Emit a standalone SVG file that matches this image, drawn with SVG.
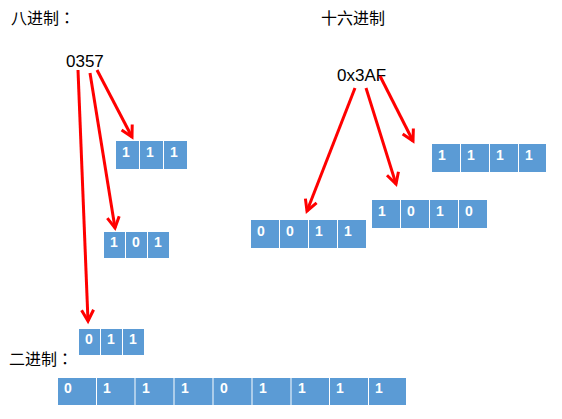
<svg xmlns="http://www.w3.org/2000/svg" width="562" height="419" viewBox="0 0 562 419">
<style>
.cell{fill:#5B9BD5}
.d{fill:#fff;font-family:"Liberation Sans",Arial,sans-serif;font-weight:bold;font-size:14px}
.cj{fill:#000;font-family:"Noto Sans CJK SC",sans-serif;font-size:16px}
.colon{font-family:"Noto Sans CJK JP",sans-serif}
.num{fill:#000;font-family:"Liberation Sans",Arial,sans-serif;font-size:17px}
.arr{stroke:#FF0000;stroke-width:3;fill:none;marker-end:url(#ah)}
</style>
<defs>
<marker id="ah" markerUnits="userSpaceOnUse" markerWidth="20" markerHeight="20" refX="0" refY="0" viewBox="-14 -10 18 20" orient="auto" overflow="visible">
<path d="M-11,-6 L0,0 L-11,6" stroke="#FF0000" stroke-width="3" fill="none"/>
</marker>
</defs>
<rect width="562" height="419" fill="#fff"/>
<g id="title-octal"><text class="cj" x="11" y="24">八进制<tspan class="colon">：</tspan></text></g>
<g id="title-hex"><text class="cj" x="321" y="24">十六进制</text></g>
<g id="title-bin"><text class="cj" x="9" y="365">二进制<tspan class="colon">：</tspan></text></g>
<g id="num-octal"><text class="num" x="66" y="67">0357</text></g>
<g id="num-hex"><text class="num" x="337" y="81">0x3AF</text></g>

<g id="oct-7">
<rect class="cell" x="116" y="141" width="23" height="28"/>
<rect class="cell" x="140" y="141" width="23" height="28"/>
<rect class="cell" x="164" y="141" width="23" height="28"/>
<text class="d" x="122" y="157">1</text><text class="d" x="146" y="157">1</text><text class="d" x="170" y="157">1</text>
</g>
<g id="oct-5">
<rect class="cell" x="104" y="232" width="21" height="26"/>
<rect class="cell" x="126" y="232" width="21" height="26"/>
<rect class="cell" x="148" y="232" width="21" height="26"/>
<text class="d" x="110" y="247">1</text><text class="d" x="132" y="247">0</text><text class="d" x="154" y="247">1</text>
</g>
<g id="oct-3">
<rect class="cell" x="79" y="329" width="21" height="26"/>
<rect class="cell" x="101" y="329" width="21" height="26"/>
<rect class="cell" x="123" y="329" width="21" height="26"/>
<text class="d" x="85" y="344">0</text><text class="d" x="107" y="344">1</text><text class="d" x="129" y="344">1</text>
</g>

<g id="hex-3">
<rect class="cell" x="251" y="220" width="28" height="28"/>
<rect class="cell" x="280" y="220" width="28" height="28"/>
<rect class="cell" x="309" y="220" width="28" height="28"/>
<rect class="cell" x="338" y="220" width="28" height="28"/>
<text class="d" x="257" y="236">0</text><text class="d" x="286" y="236">0</text><text class="d" x="315" y="236">1</text><text class="d" x="344" y="236">1</text>
</g>
<g id="hex-A">
<rect class="cell" x="372" y="200" width="28" height="28"/>
<rect class="cell" x="401" y="200" width="28" height="28"/>
<rect class="cell" x="430" y="200" width="28" height="28"/>
<rect class="cell" x="459" y="200" width="28" height="28"/>
<text class="d" x="378" y="216">1</text><text class="d" x="407" y="216">0</text><text class="d" x="436" y="216">1</text><text class="d" x="465" y="216">0</text>
</g>
<g id="hex-F">
<rect class="cell" x="432" y="144" width="28" height="28"/>
<rect class="cell" x="461" y="144" width="28" height="28"/>
<rect class="cell" x="490" y="144" width="28" height="28"/>
<rect class="cell" x="519" y="144" width="27" height="28"/>
<text class="d" x="438" y="160">1</text><text class="d" x="467" y="160">1</text><text class="d" x="496" y="160">1</text><text class="d" x="525" y="160">1</text>
</g>

<g id="binary">
<rect class="cell" x="58" y="378" width="38" height="27"/>
<rect class="cell" x="97" y="378" width="37.5" height="27"/>
<rect class="cell" x="135.5" y="378" width="38" height="27"/>
<rect class="cell" x="174.5" y="378" width="38" height="27"/>
<rect class="cell" x="213.5" y="378" width="38" height="27"/>
<rect class="cell" x="252.5" y="378" width="38" height="27"/>
<rect class="cell" x="291.5" y="378" width="37.5" height="27"/>
<rect class="cell" x="330" y="378" width="38" height="27"/>
<rect class="cell" x="369" y="378" width="37" height="27"/>
<text class="d" x="64" y="393">0</text>
<text class="d" x="103" y="393">1</text>
<text class="d" x="142" y="393">1</text>
<text class="d" x="181" y="393">1</text>
<text class="d" x="220" y="393">0</text>
<text class="d" x="259" y="393">1</text>
<text class="d" x="298" y="393">1</text>
<text class="d" x="336" y="393">1</text>
<text class="d" x="375" y="393">1</text>
</g>

<g id="connectors">
<line class="arr" x1="97" y1="70" x2="132" y2="137"/>
<line class="arr" x1="90" y1="73" x2="115" y2="228"/>
<line class="arr" x1="78" y1="70" x2="88" y2="321"/>
<line class="arr" x1="355" y1="88" x2="307" y2="211"/>
<line class="arr" x1="366" y1="88" x2="396" y2="184"/>
<line class="arr" x1="380" y1="76" x2="413" y2="141"/>
</g>
</svg>
